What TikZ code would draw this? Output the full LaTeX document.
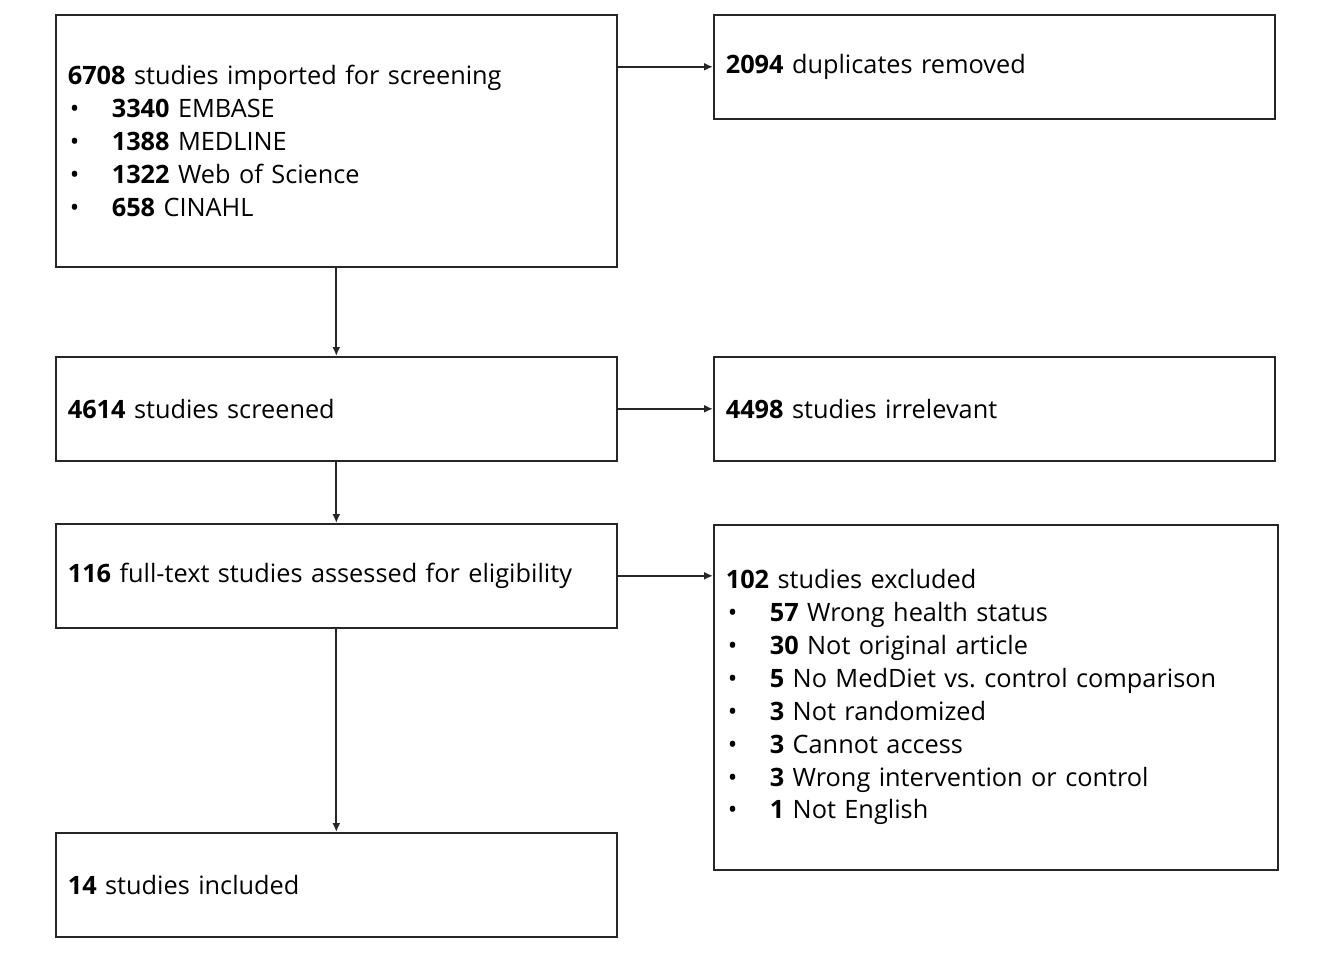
\documentclass[tikz,border=0pt]{standalone}
\usepackage{fontspec}
\setmainfont{Open Sans}
\usetikzlibrary{arrows.meta}
\newcommand{\bl}{\makebox[44bp][l]{\hspace{2bp}•}}
\frenchspacing
\begin{document}
\begin{tikzpicture}[x=1bp,y=-1bp,
  box/.style={draw=black!85, line width=1.6bp, rectangle, minimum height=104bp,
    text width=537bp, inner xsep=12bp, inner ysep=0bp, align=left,
    font=\fontsize{25.4}{33}\selectfont, anchor=north west},
  arr/.style={-{Latex[length=9bp,width=8bp]}, line width=1.8bp, draw=black!85}]
\useasboundingbox[fill=white] (0,0) rectangle (1322,954);
\node[box, minimum height=252bp] (imp) at (55,14) {\textbf{6708} studies imported for screening\\
\bl\textbf{3340} EMBASE\\
\bl\textbf{1388} MEDLINE\\
\bl\textbf{1322} Web of Science\\
\bl\textbf{658} CINAHL};
\node[box] (dup) at (713,14) {\textbf{2094} duplicates removed};
\node[box] (scr) at (55,356) {\textbf{4614} studies screened};
\node[box] (irr) at (713,356) {\textbf{4498} studies irrelevant};
\node[box] (full) at (55,523) {\textbf{116} full-text studies assessed for eligibility};
\node[box, minimum height=345bp, text width=540bp] (excl) at (713,524) {\textbf{102} studies excluded\\
\bl\textbf{57} Wrong health status\\
\bl\textbf{30} Not original article\\
\bl\textbf{5} No MedDiet vs. control comparison\\
\bl\textbf{3} Not randomized\\
\bl\textbf{3} Cannot access\\
\bl\textbf{3} Wrong intervention or control\\
\bl\textbf{1} Not English};
\node[box] (inc) at (55,832) {\textbf{14} studies included};
\draw[arr] (imp.east |- dup) -- (dup.west);
\draw[arr] (imp.south) -- (scr.north);
\draw[arr] (scr.east) -- (irr.west);
\draw[arr] (scr.south) -- (full.north);
\draw[arr] (full.east) -- (full.east -| excl.west);
\draw[arr] (full.south) -- (inc.north);
\end{tikzpicture}
\end{document}
